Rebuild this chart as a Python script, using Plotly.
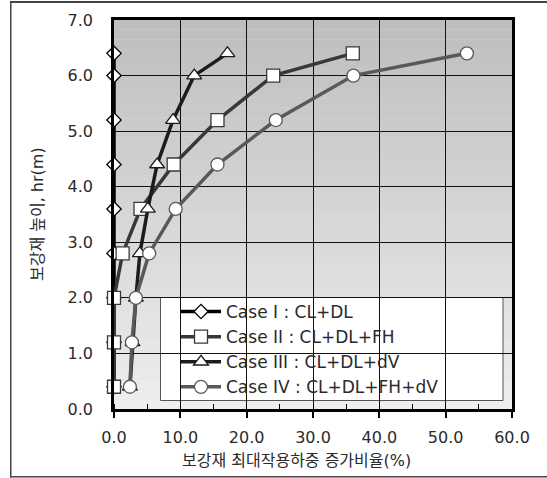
import plotly.graph_objects as go

heights = [0.4, 1.2, 2.0, 2.8, 3.6, 4.4, 5.2, 6.0, 6.4]
case1 = [0.0, 0.0, 0.0, 0.0, 0.0, 0.0, 0.0, 0.0, 0.0]
case2 = [0.0, 0.0, 0.0, 1.3, 4.0, 9.0, 15.6, 24.0, 36.0]
case3 = [2.4, 2.8, 3.3, 3.9, 5.1, 6.5, 8.9, 12.1, 17.1]
case4 = [2.4, 2.7, 3.3, 5.3, 9.3, 15.6, 24.4, 36.1, 53.2]
names = ["Case I : CL+DL", "Case II : CL+DL+FH", "Case III : CL+DL+dV", "Case IV : CL+DL+FH+dV"]

x_title = "보강재 최대작용하중 증가비율(%)"
y_title = "보강재 높이, hr(m)"

FONT = "DejaVu Sans, Noto Sans CJK KR"
TXT = "#2a2a2a"

styles = [
    dict(color="#000000", symbol="diamond", size=11, lc="#000000"),
    dict(color="#383838", symbol="square", size=13, lc="#3a3a3a"),
    dict(color="#1c1c1c", symbol="triangle-up", size=13, lc="#1c1c1c"),
    dict(color="#595959", symbol="circle", size=13, lc="#5a5a5a"),
]

fig = go.Figure()
for vals, name, st in zip([case1, case2, case3, case4], names, styles):
    fig.add_trace(go.Scatter(
        x=vals, y=heights, name=name, mode="lines+markers",
        line=dict(color=st["color"], width=3.5),
        marker=dict(symbol=st["symbol"], size=st["size"], color="white",
                    line=dict(color=st["lc"], width=1.3)),
        cliponaxis=False,
    ))

L, R, T, B = 114, 512, 20, 409
W, H = R - L, B - T


def px(x):
    return (x - L) / W


def py(y):
    return (B - y) / H


# background gradient strips
N = 40
shapes = []
for i in range(N):
    t = i / (N - 1)
    g = int(round(0xee + (0xbe - 0xee) * t))
    col = f"rgb({g},{g},{g})"
    shapes.append(dict(type="rect", xref="x domain", yref="y domain",
                       x0=0, x1=1, y0=i / N, y1=(i + 1) / N,
                       fillcolor=col, line=dict(width=0), layer="below"))

# legend box
shapes.append(dict(type="rect", xref="paper", yref="paper",
                   x0=px(160.5), x1=px(503), y0=py(400.5), y1=py(297.5),
                   fillcolor="white", line=dict(color="#555555", width=1),
                   layer="between"))
# outer frame (left, top, bottom edges)
fc = "#444444"
shapes.append(dict(type="rect", xref="paper", yref="paper",
                   x0=px(10), x1=px(11.5), y0=py(477.5), y1=py(1), fillcolor=fc,
                   line=dict(width=0), layer="above"))
shapes.append(dict(type="rect", xref="paper", yref="paper",
                   x0=px(10), x1=px(547), y0=py(3), y1=py(1), fillcolor=fc,
                   line=dict(width=0), layer="above"))
shapes.append(dict(type="rect", xref="paper", yref="paper",
                   x0=px(10), x1=px(547), y0=py(477.5), y1=py(476), fillcolor=fc,
                   line=dict(width=0), layer="above"))

annotations = [
    dict(text=x_title, xref="paper", yref="paper", x=px(296), y=py(460),
         xanchor="center", yanchor="middle", showarrow=False,
         font=dict(family=FONT, size=16, color=TXT)),
    dict(text=y_title, xref="paper", yref="paper", x=px(37), y=py(214),
         xanchor="center", yanchor="middle", showarrow=False, textangle=-90,
         font=dict(family=FONT, size=16, color=TXT)),
    # top edge of the outer frame, drawn as an annotation background bar
    dict(text="", xref="paper", yref="paper", x=px(10), y=py(1),
         xanchor="left", yanchor="top", showarrow=False,
         width=537, height=1, bgcolor=fc, borderpad=0, borderwidth=0,
         font=dict(size=1)),
]

fig.update_layout(
    width=547, height=478,
    margin=dict(l=L, r=547 - R, t=T, b=478 - B),
    paper_bgcolor="white", plot_bgcolor="#dddddd",
    font=dict(family=FONT, size=16, color=TXT),
    shapes=shapes,
    annotations=annotations,
    showlegend=True,
    legend=dict(x=px(176), y=py(294), xanchor="left", yanchor="top",
                bgcolor="rgba(0,0,0,0)", borderwidth=0,
                font=dict(family=FONT, size=17, color=TXT),
                itemwidth=40, tracegroupgap=0),
    xaxis=dict(range=[0, 60], dtick=10, tickformat=".1f",
               showgrid=True, gridcolor="#111111", gridwidth=1,
               showline=True, linecolor="black", linewidth=2.5, mirror=True,
               ticks="outside", ticklen=6, tickwidth=1.5, tickcolor="black",
               minor=dict(dtick=5, ticks="inside", ticklen=5, tickwidth=1, tickcolor="black", showgrid=False),
               ticklabelstandoff=6,
               zeroline=False,
               tickfont=dict(size=16)),
    yaxis=dict(range=[0, 7], dtick=1, tickformat=".1f",
               showgrid=True, gridcolor="#111111", gridwidth=1,
               showline=True, linecolor="black", linewidth=2.5, mirror=True,
               ticks="", ticklabelstandoff=15,
               zeroline=False,
               tickfont=dict(size=16)),
)

fig.write_html("out.html", config={"displayModeBar": False},
               post_script="document.body.style.margin='0';")
